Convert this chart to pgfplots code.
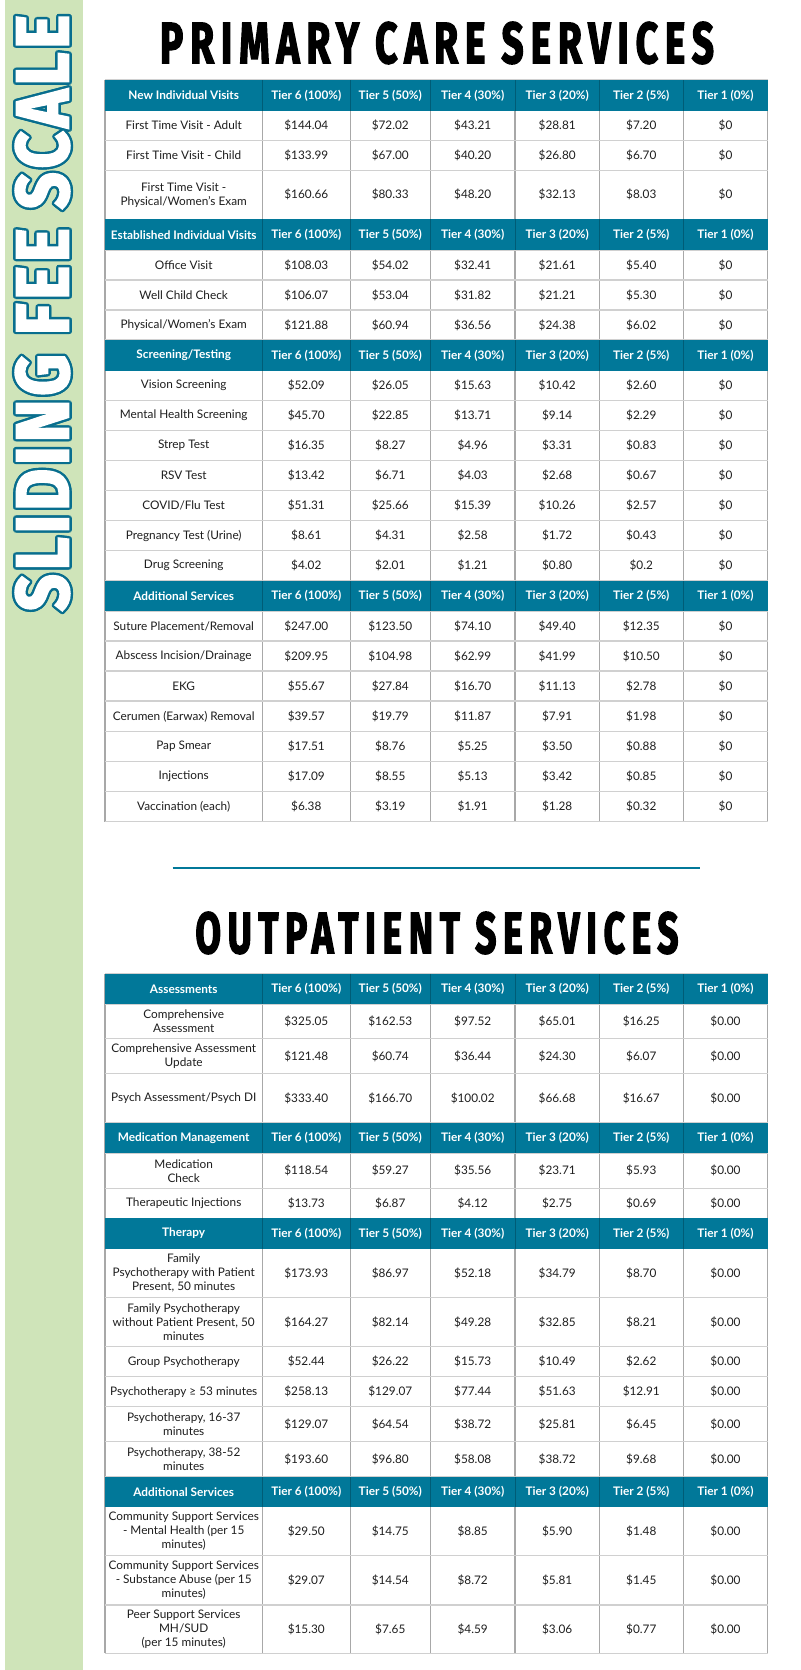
\documentclass[border=0pt]{standalone}
\usepackage{pgfplots}
\pgfplotsset{compat=1.18}
\usepackage{pgfplotstable}
\usepackage{fontspec}
\setmainfont{Lato}
\newfontfamily\titlefont{Fira Sans}[LetterSpace=18, BoldFeatures={FakeBold=3}]
\newfontfamily\vfont{Fira Sans}[LetterSpace=6, BoldFeatures={FakeBold=3}]
\definecolor{hdr}{RGB}{1,120,153}
\definecolor{hdrline}{RGB}{0,92,118}
\definecolor{greenbar}{RGB}{207,228,185}
\definecolor{outl}{RGB}{8,110,142}
\definecolor{gridh}{RGB}{208,208,208}
\definecolor{gridv}{RGB}{168,168,168}
\definecolor{bodytext}{RGB}{30,30,30}
\newcommand\cellfont{\fontsize{5.9}{7}\selectfont}
\newsavebox\vtitleT
\newsavebox\vtitleW
\newsavebox\ttlA
\newsavebox\ttlB
\sbox\vtitleT{\resizebox{298pt}{26.5pt}{\vfont\bfseries\color{outl}SLIDING FEE SCALE}}
\sbox\vtitleW{\resizebox{298pt}{26.5pt}{\vfont\bfseries\color{white}SLIDING FEE SCALE}}
\sbox\ttlA{\resizebox{277pt}{20.5pt}{\titlefont\bfseries PRIMARY CARE SERVICES}}
\sbox\ttlB{\resizebox{241.5pt}{20.5pt}{\titlefont\bfseries OUTPATIENT SERVICES}}
\tikzset{
  hfont/.style={font=\cellfont\bfseries, text=white, inner sep=0pt, anchor=center},
  lab/.style={font=\cellfont, text=bodytext, align=center, inner sep=0pt, anchor=center},
}
\pgfplotsset{valplot/.style={draw=none, mark=none,
  nodes near coords={\$\pgfplotspointmeta}, point meta=explicit symbolic,
  every node near coord/.append style={anchor=center, inner sep=0pt, font=\cellfont, text=bodytext}}}
% header row: top, bottom, centre, label
\newcommand\hdr[4]{%
  \fill[hdr] (axis cs:105,#1) rectangle (axis cs:767.7,#2);
  \pgfplotsinvokeforeach{262.3,350.3,430.3,515,599.3,683.3}{\draw[hdrline,line width=0.5pt] (axis cs:##1,#1) -- (axis cs:##1,#2);}
  \node[hfont] at (axis cs:183.7,#3) {#4};
  \node[hfont] at (axis cs:306.3,#3) {Tier 6 (100\%)};
  \node[hfont] at (axis cs:390.3,#3) {Tier 5 (50\%)};
  \node[hfont] at (axis cs:472.7,#3) {Tier 4 (30\%)};
  \node[hfont] at (axis cs:557.2,#3) {Tier 3 (20\%)};
  \node[hfont] at (axis cs:641.3,#3) {Tier 2 (5\%)};
  \node[hfont] at (axis cs:725.5,#3) {Tier 1 (0\%)};
}
\newcommand\vgrid[2]{%
  \pgfplotsinvokeforeach{105,262.3,350.3,430.3,515,599.3,683.3,767.7}{\draw[gridv,line width=0.6pt] (axis cs:##1,#1) -- (axis cs:##1,#2);}
}
\newcommand\rl[2]{\node[lab] at (axis cs:183.7,#1) {#2};}

\pgfplotstableread{
y t6 t5 t4 t3 t2 t1
125.5 144.04 72.02 43.21 28.81 7.20 0
155.3 133.99 67.00 40.20 26.80 6.70 0
194.8 160.66 80.33 48.20 32.13 8.03 0
265 108.03 54.02 32.41 21.61 5.40 0
295 106.07 53.04 31.82 21.21 5.30 0
325 121.88 60.94 36.56 24.38 6.02 0
385.7 52.09 26.05 15.63 10.42 2.60 0
415.7 45.70 22.85 13.71 9.14 2.29 0
445.7 16.35 8.27 4.96 3.31 0.83 0
475.7 13.42 6.71 4.03 2.68 0.67 0
505.7 51.31 25.66 15.39 10.26 2.57 0
535.7 8.61 4.31 2.58 1.72 0.43 0
565.7 4.02 2.01 1.21 0.80 0.2 0
626 247.00 123.50 74.10 49.40 12.35 0
656 209.95 104.98 62.99 41.99 10.50 0
686 55.67 27.84 16.70 11.13 2.78 0
716.3 39.57 19.79 11.87 7.91 1.98 0
746.5 17.51 8.76 5.25 3.50 0.88 0
776.6 17.09 8.55 5.13 3.42 0.85 0
806.7 6.38 3.19 1.91 1.28 0.32 0
1021.3 325.05 162.53 97.52 65.01 16.25 0.00
1056 121.48 60.74 36.44 24.30 6.07 0.00
1098 333.40 166.70 100.02 66.68 16.67 0.00
1170.8 118.54 59.27 35.56 23.71 5.93 0.00
1203.3 13.73 6.87 4.12 2.75 0.69 0.00
1273 173.93 86.97 52.18 34.79 8.70 0.00
1322 164.27 82.14 49.28 32.85 8.21 0.00
1361.7 52.44 26.22 15.73 10.49 2.62 0.00
1391.7 258.13 129.07 77.44 51.63 12.91 0.00
1424.2 129.07 64.54 38.72 25.81 6.45 0.00
1459.2 193.60 96.80 58.08 38.72 9.68 0.00
1531.2 29.50 14.75 8.85 5.90 1.48 0.00
1580.3 29.07 14.54 8.72 5.81 1.45 0.00
1629.2 15.30 7.65 4.59 3.06 0.77 0.00
}\fees

\begin{document}
\begin{tikzpicture}
\begin{axis}[
  at={(0,0)}, anchor=south west,
  width=400pt, height=835pt, scale only axis,
  xmin=0, xmax=800, ymin=0, ymax=1670, y dir=reverse,
  hide axis, clip=false,
]
\fill[white] (axis cs:0,0) rectangle (axis cs:800,1670);
\fill[greenbar] (axis cs:5,0) rectangle (axis cs:83,1670);
% vertical title with outline
\pgfplotsinvokeforeach{0,30,...,330}{\node[rotate=90, inner sep=0pt, anchor=center, shift={(#1:1.2pt)}] at (axis cs:42.5,313) {\usebox\vtitleT};}
\node[rotate=90, inner sep=0pt, anchor=center] at (axis cs:42.5,313) {\usebox\vtitleW};
% titles
\node[inner sep=0pt, anchor=center] at (axis cs:437,43) {\usebox\ttlA};
\node[inner sep=0pt, anchor=center] at (axis cs:437,933) {\usebox\ttlB};
% separator
\draw[hdr, line width=1pt] (axis cs:172.7,867.7) -- (axis cs:700,867.7);

% ---------- table 1 grid ----------
\vgrid{80}{821.7}
\pgfplotsinvokeforeach{80,110.7,140.3,170.3,219.3,250,280,310,340,370.7,400.7,430.7,460.7,490.7,520.7,550.7,580.7,611,641,671,701,731.5,761.5,791.7,821.7}{\draw[gridh,line width=0.7pt] (axis cs:105,#1) -- (axis cs:767.7,#1);}
\hdr{80}{110.7}{95.4}{New Individual Visits}
\hdr{219.3}{250}{234.7}{Established Individual Visits}
\hdr{340}{370.7}{355.4}{Screening/Testing}
\hdr{580.7}{611}{595.9}{Additional Services}
\rl{125.5}{First Time Visit - Adult}
\rl{155.3}{First Time Visit - Child}
\rl{194.8}{First Time Visit -\\Physical/Women’s Exam}
\rl{265}{Office Visit}
\rl{295}{Well Child Check}
\rl{325}{Physical/Women’s Exam}
\rl{385.7}{Vision Screening}
\rl{415.7}{Mental Health Screening}
\rl{445.7}{Strep Test}
\rl{475.7}{RSV Test}
\rl{505.7}{COVID/Flu Test}
\rl{535.7}{Pregnancy Test (Urine)}
\rl{565.7}{Drug Screening}
\rl{626}{Suture Placement/Removal}
\rl{656}{Abscess Incision/Drainage}
\rl{686}{EKG}
\rl{716.3}{Cerumen (Earwax) Removal}
\rl{746.5}{Pap Smear}
\rl{776.6}{Injections}
\rl{806.7}{Vaccination (each)}

% ---------- table 2 grid ----------
\vgrid{974}{1653.3}
\pgfplotsinvokeforeach{974,1004,1038.7,1073.3,1122.7,1153.3,1188.3,1218.3,1248.7,1297.3,1346.7,1376.7,1406.7,1441.7,1476.7,1506.7,1555.7,1605,1653.3}{\draw[gridh,line width=0.7pt] (axis cs:105,#1) -- (axis cs:767.7,#1);}
\hdr{974}{1004}{989}{Assessments}
\hdr{1122.7}{1153.3}{1138}{Medication Management}
\hdr{1218.3}{1248.7}{1233.5}{Therapy}
\hdr{1476.7}{1506.7}{1491.7}{Additional Services}
\rl{1021.3}{Comprehensive\\Assessment}
\rl{1056}{Comprehensive Assessment\\Update}
\rl{1098}{Psych Assessment/Psych DI}
\rl{1170.8}{Medication\\Check}
\rl{1203.3}{Therapeutic Injections}
\rl{1273}{Family\\Psychotherapy with Patient\\Present, 50 minutes}
\rl{1322}{Family Psychotherapy\\without Patient Present, 50\\minutes}
\rl{1361.7}{Group Psychotherapy}
\rl{1391.7}{Psychotherapy ≥ 53 minutes}
\rl{1424.2}{Psychotherapy, 16-37\\minutes}
\rl{1459.2}{Psychotherapy, 38-52\\minutes}
\rl{1531.2}{Community Support Services\\- Mental Health (per 15\\minutes)}
\rl{1580.3}{Community Support Services\\- Substance Abuse (per 15\\minutes)}
\rl{1629.2}{Peer Support Services\\MH/SUD\\(per 15 minutes)}

% ---------- values ----------
\addplot[valplot] table[x expr=306.3, y=y, meta=t6] {\fees};
\addplot[valplot] table[x expr=390.3, y=y, meta=t5] {\fees};
\addplot[valplot] table[x expr=472.7, y=y, meta=t4] {\fees};
\addplot[valplot] table[x expr=557.2, y=y, meta=t3] {\fees};
\addplot[valplot] table[x expr=641.3, y=y, meta=t2] {\fees};
\addplot[valplot] table[x expr=725.5, y=y, meta=t1] {\fees};
\end{axis}
\end{tikzpicture}
\end{document}
